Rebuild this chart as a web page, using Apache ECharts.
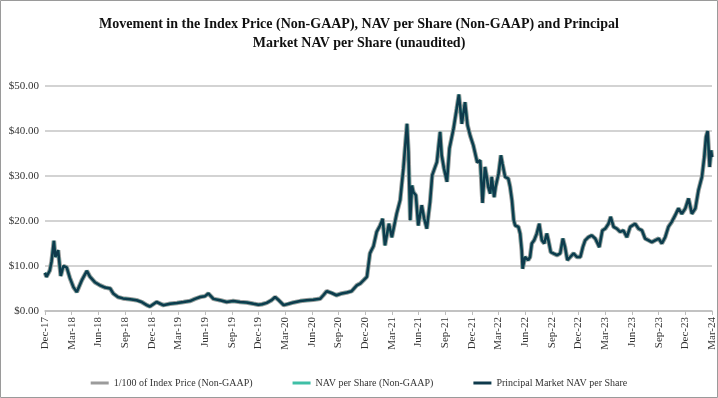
<!DOCTYPE html>
<html>
<head>
<meta charset="utf-8">
<script src="https://cdn.jsdelivr.net/npm/echarts@6/dist/echarts.min.js"></script>
<style>
  html, body { margin: 0; padding: 0; background: #fff; }
  #main { width: 718px; height: 398px; }
</style>
</head>
<body>
<div id="main"></div>
<script>
// dates (chart time) and values
var dates = [
  '2017-12-18','2017-12-23','2017-12-29','2018-01-04','2018-01-10','2018-01-18','2018-01-23','2018-02-02',
  '2018-02-11','2018-02-20','2018-03-01','2018-03-12','2018-03-24','2018-04-05','2018-04-22','2018-05-09',
  '2018-05-20','2018-06-06','2018-06-24','2018-07-11','2018-07-28','2018-08-08','2018-08-24','2018-09-11',
  '2018-10-05','2018-10-27','2018-11-14','2018-12-01','2018-12-12','2019-01-04','2019-01-27','2019-02-20',
  '2019-03-13','2019-04-05','2019-04-27','2019-05-14','2019-06-01','2019-06-18','2019-06-29','2019-07-16',
  '2019-08-08','2019-08-31','2019-09-23','2019-10-16','2019-11-08','2019-12-01','2019-12-18','2019-12-30',
  '2020-01-16','2020-02-02','2020-02-14','2020-02-25','2020-03-13','2020-03-30','2020-04-16','2020-05-09',
  '2020-06-01','2020-06-23','2020-07-16','2020-07-27','2020-08-08','2020-08-25','2020-09-11','2020-09-29',
  '2020-10-16','2020-11-02','2020-11-20','2020-12-01','2020-12-12','2020-12-24','2020-12-29','2021-01-04',
  '2021-01-09','2021-01-16','2021-01-27','2021-02-08','2021-02-17','2021-02-25','2021-03-08','2021-03-18',
  '2021-04-04','2021-04-16','2021-04-27','2021-05-09','2021-05-14','2021-05-20','2021-05-26','2021-05-31',
  '2021-06-09','2021-06-17','2021-06-29','2021-07-07','2021-07-16','2021-07-27','2021-08-04','2021-08-20',
  '2021-08-31','2021-09-06','2021-09-14','2021-09-24','2021-10-02','2021-10-16','2021-10-27','2021-11-04',
  '2021-11-14','2021-11-25','2021-12-03','2021-12-12','2021-12-23','2022-01-06','2022-01-16','2022-01-24',
  '2022-02-02','2022-02-08','2022-02-13','2022-02-20','2022-02-25','2022-03-03','2022-03-08','2022-03-18',
  '2022-03-26','2022-04-01','2022-04-10','2022-04-21','2022-04-27','2022-05-03','2022-05-09','2022-05-14',
  '2022-05-25','2022-05-31','2022-06-06','2022-06-09','2022-06-17','2022-06-28','2022-07-04','2022-07-10',
  '2022-07-18','2022-07-27','2022-08-05','2022-08-14','2022-08-22','2022-08-31','2022-09-06','2022-09-14',
  '2022-09-23','2022-10-05','2022-10-16','2022-10-25','2022-11-02','2022-11-10','2022-11-20','2022-12-01',
  '2022-12-12','2022-12-24','2023-01-02','2023-01-10','2023-01-21','2023-02-02','2023-02-14','2023-02-20',
  '2023-02-28','2023-03-08','2023-03-18','2023-03-29','2023-04-06','2023-04-16','2023-04-27','2023-05-08',
  '2023-05-19','2023-05-31','2023-06-12','2023-06-29','2023-07-10','2023-07-22','2023-08-02','2023-08-14',
  '2023-08-25','2023-09-06','2023-09-18','2023-09-29','2023-10-10','2023-10-21','2023-11-02','2023-11-14',
  '2023-11-25','2023-12-06','2023-12-18','2023-12-29','2024-01-10','2024-01-22','2024-02-02','2024-02-14',
  '2024-02-22','2024-02-28','2024-03-03','2024-03-10','2024-03-15','2024-03-18'
];

var principalNav = [
  8.5, 7.6, 8.0, 9.0, 11.0, 15.6, 12.0, 13.5,
  7.8, 10.0, 9.7, 7.3, 5.3, 4.2, 6.8, 8.9,
  7.6, 6.4, 5.7, 5.2, 5.0, 3.9, 3.1, 2.8,
  2.6, 2.4, 2.0, 1.3, 1.0, 2.0, 1.3, 1.6,
  1.8, 2.0, 2.2, 2.7, 3.1, 3.3, 3.9, 2.7,
  2.4, 2.0, 2.2, 2.0, 1.9, 1.6, 1.4, 1.5,
  1.8, 2.4, 3.1, 2.5, 1.3, 1.6, 1.9, 2.2,
  2.4, 2.5, 2.7, 3.5, 4.4, 4.0, 3.5, 3.9,
  4.1, 4.4, 5.7, 6.1, 6.8, 7.6, 7.9, 12.8,
  13.5, 14.4, 17.6, 19.0, 20.5, 14.6, 19.4, 16.4,
  21.6, 24.6, 31.6, 41.6, 35.3, 20.2, 27.9, 26.4,
  25.7, 19.0, 23.5, 20.5, 18.3, 24.2, 30.2, 33.1,
  39.8, 34.6, 31.6, 28.7, 36.1, 40.5, 45.0, 48.1,
  41.6, 46.4, 41.3, 39.0, 36.8, 33.0, 33.5, 24.0,
  32.0, 29.8, 27.6, 26.1, 29.8, 25.3, 27.6, 30.5,
  34.6, 32.7, 29.8, 29.4, 27.6, 24.6, 20.2, 19.0,
  18.7, 17.2, 13.5, 9.4, 12.0, 11.3, 12.0, 15.0,
  15.7, 17.2, 19.4, 15.7, 15.0, 17.2, 15.7, 13.1,
  12.8, 12.4, 12.8, 16.1, 14.2, 11.3, 12.0, 12.8,
  12.0, 12.0, 14.2, 15.7, 16.4, 16.8, 16.1, 15.3,
  14.2, 17.9, 18.3, 19.4, 20.9, 18.7, 18.3, 17.6,
  17.9, 16.4, 18.7, 19.4, 18.3, 17.9, 16.1, 15.7,
  15.3, 15.7, 16.1, 15.0, 16.4, 18.7, 19.8, 21.3,
  22.8, 21.6, 22.8, 25.0, 21.6, 22.8, 26.8, 29.8,
  34.2, 38.7, 40.0, 32.0, 35.7, 34.2
];

// the three lines sit on top of each other in the picture
var navPerShare = principalNav;
var indexPrice = principalNav;

var seriesNames = ['1/100 of Index Price (Non-GAAP)', 'NAV per Share (Non-GAAP)', 'Principal Market NAV per Share'];
var monthNames = ['Jan','Feb','Mar','Apr','May','Jun','Jul','Aug','Sep','Oct','Nov','Dec'];

// months elapsed since the first point (Dec-17 tick)
function toMonths(d) {
  var p = d.split('-');
  return (+p[0] - 2017) * 12 + (+p[1] - 12) + (+p[2] - 18) / 30.44;
}

function pairs(vals) {
  var out = [];
  for (var i = 0; i < dates.length; i++) {
    out.push([toMonths(dates[i]), vals[i]]);
  }
  return out;
}

var serif = 'Liberation Serif';
var myChart = echarts.init(document.getElementById('main'));

var option = {
  animation: false,
  backgroundColor: '#fff',
  title: {
    text: 'Movement in the Index Price (Non-GAAP), NAV per Share (Non-GAAP) and Principal\nMarket NAV per Share (unaudited)',
    left: 'center',
    top: 10,
    textStyle: { fontFamily: serif, fontSize: 14, fontWeight: 'bold', color: '#111', lineHeight: 19 }
  },
  graphic: [{
    type: 'rect',
    shape: { x: 0.5, y: 0.5, width: 717, height: 397 },
    style: { fill: 'none', stroke: '#9a9a9a', lineWidth: 1 }
  }],
  legend: {
    bottom: 5,
    left: 'center',
    itemGap: 40,
    itemWidth: 18,
    itemHeight: 3,
    icon: 'rect',
    data: seriesNames,
    textStyle: { fontFamily: serif, fontSize: 10, color: '#333' }
  },
  grid: { left: 45, right: 6, top: 86, bottom: 87 },
  xAxis: {
    type: 'value',
    min: 0,
    max: 75,
    interval: 3,
    axisLine: { show: true, lineStyle: { color: '#bdbdbd', width: 1.5 } },
    axisTick: { show: true, length: 4, lineStyle: { color: '#bdbdbd' } },
    splitLine: { show: false },
    axisLabel: {
      rotate: 90,
      margin: 6,
      fontFamily: serif,
      fontSize: 11,
      color: '#333',
      formatter: function (v) {
        var k = 11 + Math.round(v);
        return monthNames[k % 12] + '-' + String(17 + Math.floor(k / 12));
      }
    }
  },
  yAxis: {
    type: 'value',
    min: 0,
    max: 50,
    interval: 10,
    axisLine: { show: false },
    axisTick: { show: false },
    splitLine: { lineStyle: { color: '#c4c4c4', width: 1.5 } },
    axisLabel: {
      margin: 6,
      fontFamily: serif,
      fontSize: 11,
      color: '#333',
      formatter: function (v) { return '$' + v.toFixed(2); }
    }
  },
  series: [{
    name: seriesNames[0],
    type: 'line',
    symbol: 'none',
    color: '#9b9b9b',
    lineStyle: { width: 4.5, color: '#9b9b9b' },
    data: pairs(indexPrice)
  }, {
    name: seriesNames[1],
    type: 'line',
    symbol: 'none',
    color: '#3fbfa6',
    lineStyle: { width: 2.5, color: '#3fbfa6' },
    data: pairs(navPerShare)
  }, {
    name: seriesNames[2],
    type: 'line',
    symbol: 'none',
    color: '#0e3a4c',
    lineStyle: { width: 2.5, color: '#0e3a4c' },
    data: pairs(principalNav)
  }]
};

myChart.setOption(option);
</script>
</body>
</html>
